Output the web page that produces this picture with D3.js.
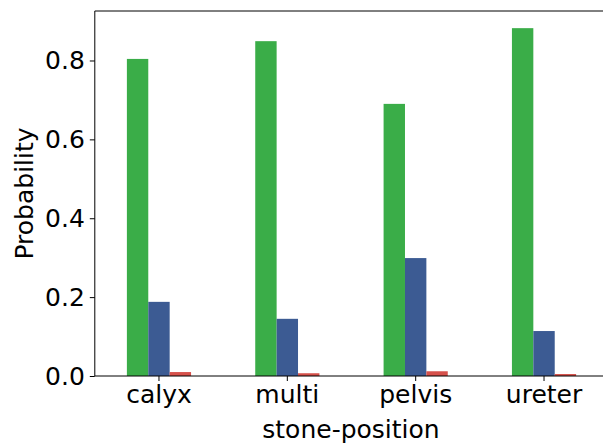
<!DOCTYPE html>
<html>
<head>
<meta charset="utf-8">
<script src="https://cdn.jsdelivr.net/npm/d3@7"></script>
<style>
  body { margin: 0; background: #fff; }
  svg { display: block; font-family: "DejaVu Sans", sans-serif; }
</style>
</head>
<body>
<svg id="chart" width="603" height="447"></svg>
<script>
var positions = ["calyx", "multi", "pelvis", "ureter"];
var series = ["good", "mid", "bad"];
var goodValues = [0.804, 0.849, 0.690, 0.882];
var midValues = [0.188, 0.145, 0.299, 0.114];
var badValues = [0.010, 0.007, 0.012, 0.005];
var yTicks = [0, 0.2, 0.4, 0.6, 0.8];
var colors = ["#3aad48", "#3c5b93", "#d6514b"];

var svg = d3.select("#chart");

var mLeft = 94.8, mRight = 608.2, mTop = 11, mBottom = 376;
var fontSize = 25;

var x = d3.scaleBand().domain(positions).range([mLeft, mRight]).padding(0);
var bw = x.bandwidth();
var xs = d3.scaleBand().domain(series).range([-bw / 4, bw / 4]).padding(0);
var y = d3.scaleLinear().domain([0, 0.9255]).range([mBottom, mTop]);

var rows = positions.map(function(p, i) {
  return { pos: p, values: [goodValues[i], midValues[i], badValues[i]] };
});

var groups = svg.append("g").selectAll("g")
  .data(rows)
  .enter().append("g")
  .attr("transform", function(d) { return "translate(" + (x(d.pos) + bw / 2) + ",0)"; });

groups.selectAll("rect")
  .data(function(d) { return d.values.map(function(v, j) { return { s: series[j], v: v, c: colors[j] }; }); })
  .enter().append("rect")
  .attr("x", function(d) { return xs(d.s); })
  .attr("width", xs.bandwidth())
  .attr("y", function(d) { return y(d.v); })
  .attr("height", function(d) { return mBottom - y(d.v); })
  .attr("fill", function(d) { return d.c; });

// y axis
var yAxis = svg.append("g")
  .attr("transform", "translate(" + mLeft + ",0)")
  .call(d3.axisLeft(y).tickValues(yTicks).tickFormat(d3.format(".1f")).tickSize(5).tickPadding(5));
yAxis.select(".domain").remove();
yAxis.attr("font-size", fontSize).attr("font-family", "DejaVu Sans");
yAxis.selectAll("line").attr("stroke", "#000").attr("stroke-width", 1);
yAxis.selectAll("text").attr("fill", "#000");

// x axis
var xAxis = svg.append("g")
  .attr("transform", "translate(0," + mBottom + ")")
  .call(d3.axisBottom(x).tickSize(5).tickPadding(4));
xAxis.select(".domain").remove();
xAxis.attr("font-size", fontSize).attr("font-family", "DejaVu Sans");
xAxis.selectAll("line").attr("stroke", "#000").attr("stroke-width", 1);
xAxis.selectAll("text").attr("fill", "#000");

// spines
svg.append("line").attr("x1", mLeft).attr("x2", mLeft).attr("y1", mTop).attr("y2", mBottom)
  .attr("stroke", "#000").attr("stroke-width", 1);
svg.append("line").attr("x1", mLeft).attr("x2", mRight).attr("y1", mBottom).attr("y2", mBottom)
  .attr("stroke", "#000").attr("stroke-width", 1);
svg.append("line").attr("x1", mLeft).attr("x2", mRight).attr("y1", mTop).attr("y2", mTop)
  .attr("stroke", "#000").attr("stroke-width", 1);

// labels
svg.append("text")
  .attr("x", 351)
  .attr("y", 438)
  .attr("text-anchor", "middle")
  .attr("font-size", fontSize)
  .text("stone-position");

svg.append("text")
  .attr("transform", "translate(33," + ((mTop + mBottom) / 2) + ") rotate(-90)")
  .attr("text-anchor", "middle")
  .attr("font-size", fontSize)
  .text("Probability");
</script>
</body>
</html>
